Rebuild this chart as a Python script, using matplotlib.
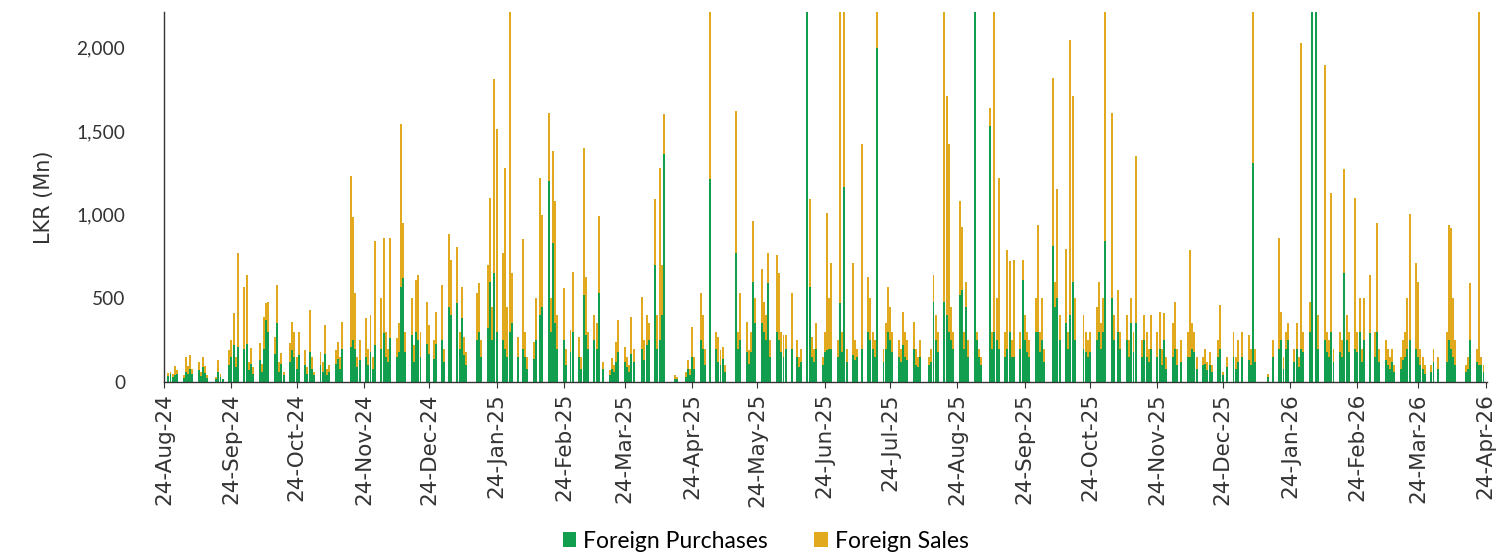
import numpy as np
import pandas as pd
import matplotlib
matplotlib.use('Agg')
import matplotlib.pyplot as plt
import matplotlib.dates as mdates
from matplotlib.ticker import FuncFormatter

# trading days (Mon-Fri), holidays carry zero turnover
dates = pd.bdate_range('2024-08-26', '2026-04-24')

# LKR Mn, one row per month window (24th -> 23rd)
purchases = [
    35, 45, 30, 40, 45, 25, 60, 50, 80, 45, 70, 35, 90, 55, 25, 0, 20, 60, 30, 15, 100,
    150, 220, 90, 210, 200, 230, 70, 110, 50, 130, 60, 200, 370, 297, 170, 350, 60, 110, 40, 120, 190, 150,
    80, 160, 100, 50, 180, 80, 40, 100, 60, 170, 40, 60, 110, 140, 80, 200, 0, 210, 250, 200, 90, 130,
    150, 100, 180, 80, 220, 200, 290, 150, 120, 260, 150, 180, 565, 620, 180, 280, 120, 300, 250, 150, 230,
    170, 0, 140, 230, 250, 120, 0, 450, 400, 470, 200, 380, 160, 100, 0, 0, 250, 300, 150, 320, 600, 250, 649,
    300, 250, 200, 150, 300, 350, 150, 0, 200, 150, 80, 140, 250, 0, 400, 450, 1202, 300, 830, 350, 200,
    250, 100, 0, 180, 300, 150, 80, 520, 280, 200, 250, 200, 530, 0, 80, 40, 80, 60, 120, 180,
    120, 90, 60, 170, 120, 0, 200, 130, 220, 250, 696, 200, 250, 400, 1363, 0, 0, 20, 15, 0, 30, 80, 40,
    150, 80, 250, 200, 100, 0, 1214, 200, 120, 100, 140, 60, 0, 0, 768, 200, 250, 180, 110, 180, 595, 350,
    350, 300, 250, 590, 150, 300, 250, 180, 150, 200, 200, 0, 150, 90, 120, 2350, 565, 150, 120, 200, 100,
    180, 190, 200, 200, 150, 470, 180, 1163, 120, 160, 130, 150, 0, 200, 300, 250, 200, 150, 1994, 120, 200, 300,
    250, 180, 150, 120, 220, 150, 130, 200, 100, 90, 150, 0, 100, 120, 480, 250, 180, 480, 400, 300, 250, 200,
    520, 550, 200, 450, 150, 2350, 250, 150, 100, 0, 1530, 200, 300, 250, 200, 150, 200, 300, 150, 150, 200, 607,
    250, 180, 150, 300, 300, 180, 250, 120, 0, 815, 450, 500, 250, 350, 200, 400, 600, 250, 0, 200, 180, 150,
    180, 250, 300, 200, 300, 845, 500, 250, 0, 300, 200, 250, 150, 350, 180, 350, 150, 250, 150, 120, 200,
    150, 200, 100, 250, 80, 150, 200, 100, 0, 120, 150, 150, 200, 180, 80, 100, 110, 70, 100, 60, 150, 200,
    40, 0, 90, 150, 80, 120, 0, 150, 130, 100, 1310, 120, 0, 0, 0, 30, 0, 150, 200, 250, 80, 200, 250,
    120, 200, 90, 200, 180, 300, 2400, 0, 2400, 200, 250, 180, 150, 300, 120, 180, 150, 650, 250, 180, 200,
    180, 300, 120, 250, 290, 0, 150, 300, 120, 130, 100, 80, 120, 60, 80, 130, 150, 200, 250, 200,
    150, 100, 80, 50, 60, 120, 0, 80, 0, 120, 250, 200, 150, 100, 0, 0, 60, 80, 250, 120, 100, 100, 60, 0,
]

sales = [
    20, 15, 15, 55, 25, 15, 90, 45, 80, 30, 50, 25, 60, 40, 15, 0, 10, 70, 15, 5, 90,
    100, 190, 60, 558, 365, 407, 50, 92, 40, 102, 50, 187, 100, 179, 98, 227, 60, 63, 20, 112, 167, 148,
    70, 138, 90, 40, 248, 70, 20, 79, 60, 169, 40, 41, 80, 98, 70, 157, 0, 1022, 736, 330, 59, 120,
    231, 100, 219, 70, 625, 300, 573, 150, 80, 603, 112, 170, 975, 332, 120, 220, 100, 307, 387, 150, 246,
    169, 0, 110, 187, 327, 80, 0, 437, 326, 334, 100, 185, 108, 80, 0, 0, 280, 289, 100, 380, 500, 200, 1160,
    1212, 518, 1080, 300, 2300, 299, 118, 0, 657, 150, 70, 98, 250, 0, 820, 550, 405, 200, 551, 733, 200,
    309, 100, 0, 130, 355, 118, 70, 879, 345, 100, 150, 150, 464, 0, 39, 31, 63, 40, 118, 189,
    88, 60, 40, 217, 80, 0, 306, 120, 179, 100, 399, 200, 1030, 300, 238, 0, 0, 20, 15, 0, 30, 51, 40,
    177, 70, 280, 199, 100, 0, 1300, 98, 148, 90, 68, 40, 0, 0, 851, 100, 280, 177, 80, 120, 369, 150,
    328, 176, 150, 178, 100, 456, 400, 120, 130, 80, 330, 0, 100, 60, 80, 50, 530, 118, 80, 150, 50,
    120, 822, 300, 508, 100, 1930, 120, 1237, 80, 548, 120, 50, 0, 1221, 325, 250, 100, 100, 406, 80, 150, 265,
    200, 120, 100, 80, 197, 150, 120, 157, 100, 60, 100, 0, 50, 80, 157, 150, 120, 2020, 1308, 1121, 200, 100,
    563, 373, 100, 150, 100, 50, 50, 50, 50, 0, 107, 100, 2100, 250, 1020, 150, 586, 420, 100, 576, 100, 119,
    150, 120, 100, 200, 635, 120, 250, 80, 0, 1000, 150, 655, 150, 446, 100, 1645, 1108, 250, 0, 200, 120, 100,
    120, 200, 300, 150, 200, 1655, 1107, 150, 0, 250, 100, 150, 100, 150, 120, 1001, 100, 150, 150, 80, 200,
    150, 220, 100, 160, 70, 200, 276, 100, 0, 130, 150, 636, 150, 120, 70, 50, 90, 50, 80, 40, 100, 258,
    20, 0, 60, 150, 70, 130, 0, 150, 150, 100, 1090, 80, 0, 0, 0, 20, 0, 100, 663, 170, 70, 100, 100,
    80, 150, 60, 1824, 120, 176, 50, 0, 50, 200, 1643, 120, 100, 831, 80, 120, 100, 622, 150, 120, 901,
    120, 200, 80, 250, 347, 0, 150, 652, 80, 120, 100, 70, 80, 40, 70, 120, 150, 300, 756, 508,
    450, 100, 70, 50, 40, 80, 0, 70, 0, 180, 685, 720, 350, 150, 0, 0, 40, 70, 339, 80, 2400, 50, 40, 0,
]

tick_dates = pd.date_range('2024-08-01', '2026-04-01', freq='MS') + pd.Timedelta(days=23)
y_ticks = [0, 500, 1000, 1500, 2000]

GREEN = '#119F4F'
GOLD = '#E1A91E'

assert len(purchases) == len(dates) and len(sales) == len(dates)

plt.rcParams['font.family'] = ['Lato', 'DejaVu Sans']

fig = plt.figure(figsize=(15.1, 5.58), dpi=100)
ax = fig.add_axes([0.1086, 0.3154, 0.876, 0.663])

x = mdates.date2num(dates)
p = np.array(purchases, dtype=float)
s = np.array(sales, dtype=float)
ax.bar(x, p, width=0.9, color=GREEN, linewidth=0, antialiased=False,
       label='Foreign Purchases')
ax.bar(x, s, width=0.9, bottom=p, color=GOLD, linewidth=0, antialiased=False,
       label='Foreign Sales')

ax.set_xlim(mdates.date2num(pd.Timestamp('2024-08-24')),
            mdates.date2num(pd.Timestamp('2026-04-24')) + 0.5)
ax.set_ylim(0, 2210)
ax.set_yticks(y_ticks)
ax.yaxis.set_major_formatter(FuncFormatter(lambda v, _: f'{v:,.0f}'))
ax.set_xticks(mdates.date2num(tick_dates))
ax.set_xticklabels([d.strftime('%d-%b-%y') for d in tick_dates], rotation=90,
                   family='DejaVu Sans', fontsize=15.5)
ax.tick_params(axis='y', labelsize=13.8, colors='#333333', length=0, pad=28)
ax.tick_params(axis='x', colors='#333333', length=4, width=0.8, pad=4)

for sp in ('top', 'right'):
    ax.spines[sp].set_visible(False)
for sp in ('left', 'bottom'):
    ax.spines[sp].set_color('#333333')
    ax.spines[sp].set_linewidth(1.0)

ax.set_ylabel('LKR (Mn)', fontsize=15, family='DejaVu Sans', color='#333333', labelpad=16)

fig.legend(loc='center', bbox_to_anchor=(0.507, 0.03), ncol=2, frameon=False,
           fontsize=16.5, handlelength=0.6, handleheight=0.6, columnspacing=2.0,
           handletextpad=0.3)

fig.savefig('out.png', dpi=100)
